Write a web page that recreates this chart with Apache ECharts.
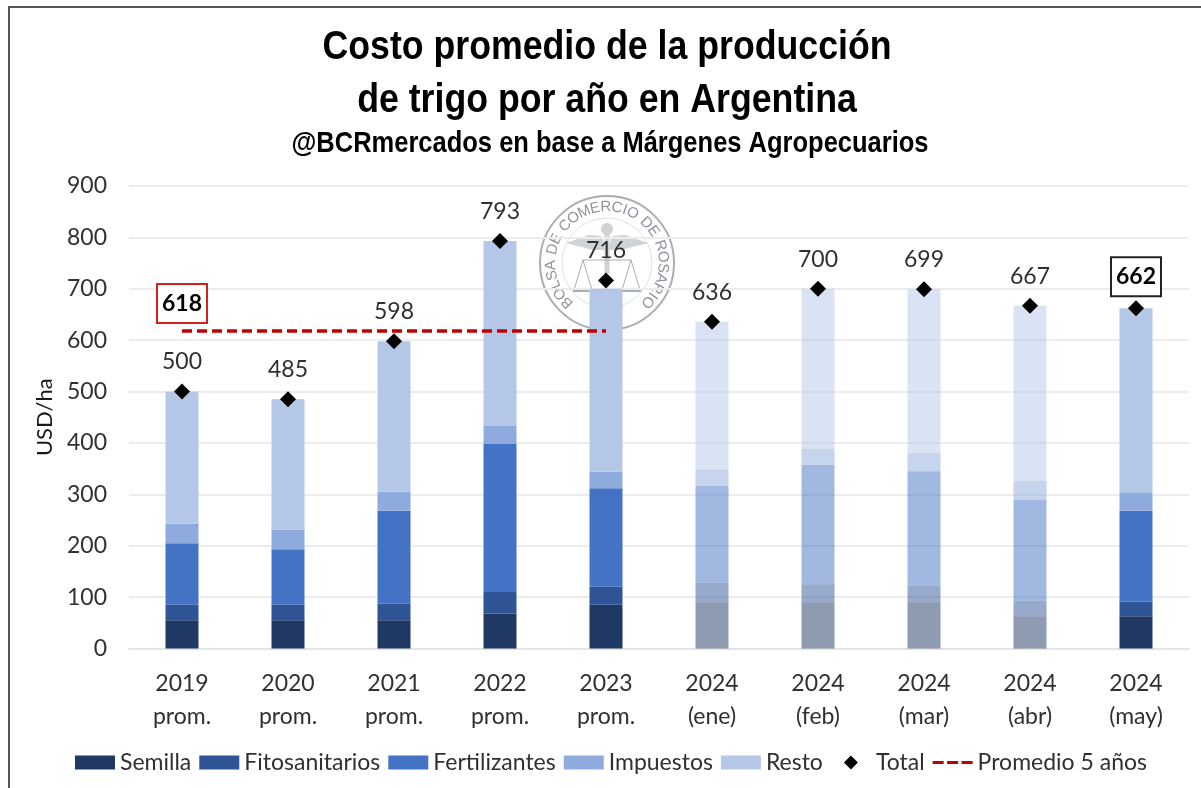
<!DOCTYPE html>
<html><head><meta charset="utf-8">
<style>html,body{margin:0;padding:0;background:#fff}#c{width:1201px;height:788px}</style>
<script src="https://cdn.jsdelivr.net/npm/echarts@6/dist/echarts.min.js"></script>
</head><body><div id="c"></div>
<script>
const categories = ['2019\nprom.','2020\nprom.','2021\nprom.','2022\nprom.','2023\nprom.','2024\n(ene)','2024\n(feb)','2024\n(mar)','2024\n(abr)','2024\n(may)'];
const semilla = [55,55,55,68,85,90,90,90,63,63];
const fitosanitarios = [30,30,32,42,35,38,35,32,30,28];
const fertilizantes = [120,108,181,288,192,188,232,223,197,177];
const impuestos = [38,38,37,35,32,33,31,36,36,36];
const resto = [257,254,293,360,356,287,312,318,341,358];
const total = [500,485,598,793,716,636,700,699,667,662];
const promedio = [618,618,618,618,618,null,null,null,null,null];
const faded = [5,6,7,8];
const seriesColors = ['#1f3864','#2f5597','#4472c4','#8faadc','#b4c7e7'];
const FONT='Lato', TXT='#303030';
const barDefs=[['Semilla',semilla],['Fitosanitarios',fitosanitarios],['Fertilizantes',fertilizantes],['Impuestos',impuestos],['Resto',resto]];
const bars=barDefs.map(([name,vals],k)=>({
  name,type:'bar',stack:'c',barWidth:33,z:3,
  itemStyle:{color:seriesColors[k]},
  data:vals.map((v,i)=>faded.includes(i)?{value:v,itemStyle:{opacity:0.5}}:v)
}));
// seal watermark (decoration)
const SX=607,SY=263,SC='#a9aeb6',SL='#cfd2d7';
const sealText='BOLSA DE COMERCIO DE ROSARIO';
const sealKids=[
 {type:'circle',shape:{cx:SX,cy:SY,r:67},style:{fill:'none',stroke:SC,lineWidth:2}},
 {type:'circle',shape:{cx:SX,cy:SY,r:45},style:{fill:'none',stroke:'#dfe1e4',lineWidth:1}},
 {type:'polygon',shape:{points:[[SX-41,SY-20],[SX-18,SY-28],[SX-6,SY-27],[SX,SY-15],[SX+6,SY-27],[SX+18,SY-28],[SX+41,SY-20],[SX+14,SY-13],[SX-14,SY-13]]},style:{fill:SL}},
 {type:'circle',shape:{cx:SX,cy:SY-34,r:6},style:{fill:SL}},
 {type:'line',shape:{x1:SX,y1:SY-30,x2:SX,y2:SY+10},style:{stroke:SL,lineWidth:5}},
 {type:'line',shape:{x1:SX-24,y1:SY-3,x2:SX+24,y2:SY-3},style:{stroke:SC,lineWidth:1}},
 {type:'polyline',shape:{points:[[SX-33,SY+27],[SX-24,SY-3],[SX-15,SY+27]]},style:{fill:'none',stroke:SC,lineWidth:1}},
 {type:'polyline',shape:{points:[[SX+15,SY+27],[SX+24,SY-3],[SX+33,SY+27]]},style:{fill:'none',stroke:SC,lineWidth:1}},
 {type:'line',shape:{x1:SX-34,y1:SY+28,x2:SX-14,y2:SY+28},style:{stroke:SC,lineWidth:2}},
 {type:'line',shape:{x1:SX+14,y1:SY+28,x2:SX+34,y2:SY+28},style:{stroke:SC,lineWidth:2}}
];
const sealFont='15px "Liberation Sans"';
const mctx=document.createElement('canvas').getContext('2d');mctx.font=sealFont;
const widths=[...sealText].map(ch=>mctx.measureText(ch).width+2);
const sumW=widths.reduce((a,b)=>a+b,0);
const startA=-140,span=280;let acc=0;
[...sealText].forEach((ch,i)=>{
  const deg=startA+span*(acc+widths[i]/2)/sumW, a=deg*Math.PI/180, r=56;acc+=widths[i];
  sealKids.push({type:'text',x:SX+r*Math.sin(a),y:SY-r*Math.cos(a),rotation:-a,
    style:{text:ch,font:sealFont,fill:'#8f949c',align:'center',verticalAlign:'middle'}});
});
function head(text,x,y,size,sx){
  return {type:'text',x,y,scaleX:sx,silent:true,z:20,
    style:{text,font:'bold '+size+'px "Liberation Sans"',fill:'#000',align:'center',verticalAlign:'middle'}};
}
const dashIcon='path://M0,0h.01v.01h-.01z M0,5.5h11v3h-11z M14.5,5.5h11v3h-11z M29,5.5h11v3h-11z M39.99,14h.01v-.01h-.01z';
const diamondIcon='path://M0,7h.01v.01h-.01z M13,7L20,0L27,7L20,14z M39.99,7h.01v.01h-.01z';
const chart=echarts.init(document.getElementById('c'),null,{renderer:'canvas'});
chart.setOption({
  animation:false,backgroundColor:'#fff',
  legend:{left:75,top:751,padding:0,itemWidth:40,itemHeight:14,itemGap:8,
    textStyle:{fontFamily:FONT,fontSize:23,color:TXT},
    data:[{name:'Semilla',icon:'rect'},{name:'Fitosanitarios',icon:'rect'},{name:'Fertilizantes',icon:'rect'},{name:'Impuestos',icon:'rect'},{name:'Resto',icon:'rect'},
      {name:'Total',icon:diamondIcon,itemStyle:{color:'#000',borderWidth:0}},
      {name:'Promedio 5 años',icon:dashIcon,itemStyle:{color:'#c00000',borderWidth:0},lineStyle:{width:0}}]},
  grid:{left:129,right:12,top:186,height:462.5},
  xAxis:{type:'category',data:categories,
    axisLine:{lineStyle:{color:'#e4e4e4',width:2}},axisTick:{show:false},
    axisLabel:{fontFamily:FONT,fontSize:23,lineHeight:33,color:TXT,margin:19,interval:0}},
  yAxis:{type:'value',min:0,max:900,interval:100,
    name:'USD/ha',nameLocation:'middle',nameGap:72,nameRotate:90,
    nameTextStyle:{fontFamily:FONT,fontSize:22,color:'#1a1a1a'},
    axisLine:{show:false},axisTick:{show:false},
    splitLine:{lineStyle:{color:'#ececec',width:2}},
    axisLabel:{fontFamily:FONT,fontSize:23,color:TXT,margin:22}},
  graphic:[
    {type:'group',silent:true,z:-1,children:sealKids},
    {type:'polyline',silent:true,shape:{points:[[9,788],[9,7],[1201,7]]},style:{fill:'none',stroke:'#555',lineWidth:2},z:10},
    head('Costo promedio de la producción',607,48,41.5,0.86),
    head('de trigo por año en Argentina',607,101,41.5,0.86),
    head('@BCRmercados en base a Márgenes Agropecuarios',610,144,30,0.85)
  ],
  series:[...bars,
   {name:'Total',type:'scatter',symbol:'diamond',symbolSize:16,z:6,
    itemStyle:{color:'#000',opacity:1},
    label:{show:true,position:'top',distance:10,fontFamily:FONT,fontSize:23,color:TXT},
    data:total.map((v,i)=>i===total.length-1?{value:v,label:{fontWeight:'bold',color:'#000',borderColor:'#222',borderWidth:2,backgroundColor:'#fff',padding:[7,4,7,4],distance:5}}:v)},
   {name:'Promedio 5 años',type:'line',symbol:'circle',symbolSize:0,showSymbol:true,showAllSymbol:true,z:5,connectNulls:false,
    lineStyle:{color:'#c00000',type:[10,5],width:3.5},itemStyle:{color:'#c00000'},
    data:promedio.map((v,i)=>i===0?{value:v,label:{show:true,position:'top',distance:9,fontFamily:FONT,fontWeight:'bold',fontSize:23,color:'#000',borderColor:'#d02020',borderWidth:2,backgroundColor:'#fff',padding:[7,4,7,4],formatter:'{c}'}}:v)}
  ]
});
</script></body></html>
